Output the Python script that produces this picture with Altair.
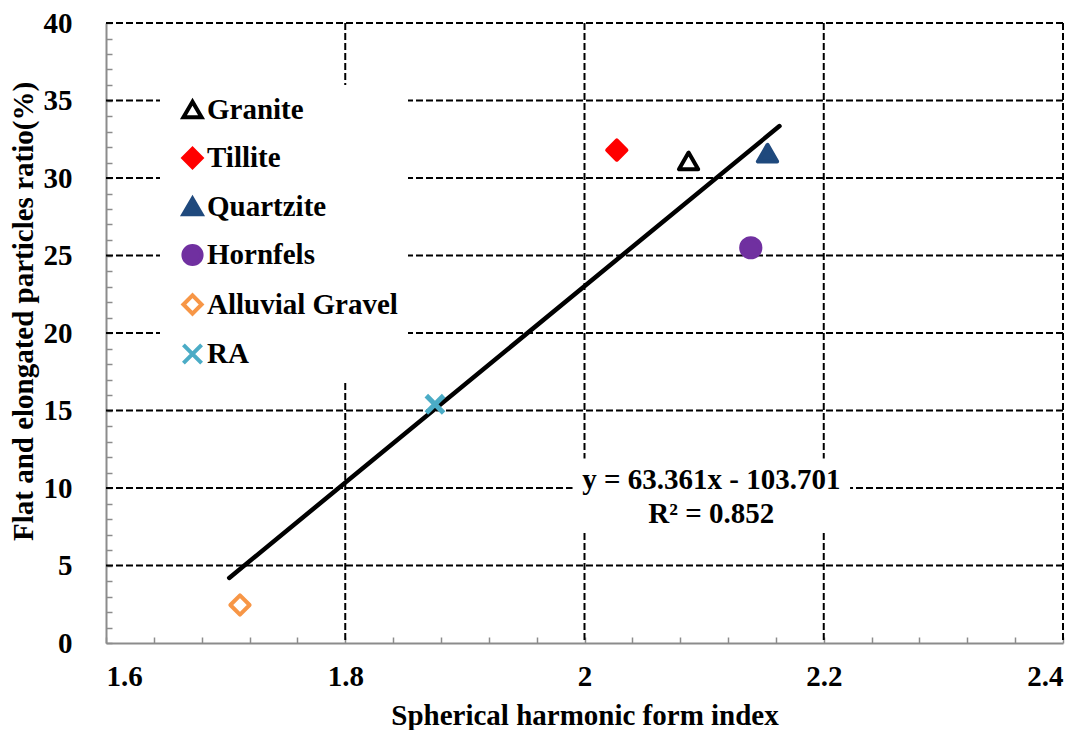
import altair as alt
import pandas as pd

# ---- data ----
rock_types = ["Granite", "Tillite", "Quartzite", "Hornfels", "Alluvial Gravel", "RA"]
sh_form_index = [2.087, 2.027, 2.153, 2.139, 1.712, 1.875]
fe_ratio = [31.1, 31.8, 31.6, 25.5, 2.45, 15.4]

trend_x = [1.703, 2.163]
trend_y = [4.2, 33.35]

x_major = [1.6, 1.8, 2.0, 2.2, 2.4]
y_major = [0, 5, 10, 15, 20, 25, 30, 35, 40]
x_grid = [1.8, 2.0, 2.2, 2.4]
y_grid = [5, 10, 15, 20, 25, 30, 35, 40]
x_minor = [round(1.6 + 0.04 * i, 2) for i in range(21)]
y_minor = list(range(0, 41))

eq_line1 = "y = 63.361x - 103.701"
eq_line2 = "R² = 0.852"

# ---- styles ----
stroke_colors = ["#000000", "#FF0000", "#1F497D", "#7030A0", "#F79646", "#4BACC6"]
fill_colors = ["#FFFFFF", "#FF0000", "#1F497D", "#7030A0", "#FFFFFF", "#4BACC6"]
shapes = ["triangle-up", "diamond", "triangle-up", "circle", "diamond",
          "M-1,-1L1,1M1,-1L-1,1"]

FONT = "Liberation Serif, Times New Roman, serif"
GREY = "#8C8C8C"
FS = 29

pts = pd.DataFrame({"type": rock_types, "x": sh_form_index, "y": fe_ratio})
trend = pd.DataFrame({"x": trend_x, "y": trend_y})
xg = pd.DataFrame({"v": x_grid})
yg = pd.DataFrame({"v": y_grid})

xscale = alt.Scale(domain=[1.6, 2.4], nice=False, zero=False)
yscale = alt.Scale(domain=[0, 40], nice=False)

x_axis = alt.Axis(values=x_major, format=".1~f", grid=False, ticks=False,
                  domain=True, domainColor=GREY, domainWidth=2,
                  labelFont=FONT, labelFontWeight="bold", labelFontSize=FS,
                  labelColor="#000", labelPadding=19,
                  title="Spherical harmonic form index", titleFont=FONT,
                  titleFontWeight="bold", titleFontSize=FS, titleColor="#000",
                  titlePadding=10, orient="bottom")
y_axis = alt.Axis(values=y_major, format="d", grid=False, ticks=False,
                  domain=True, domainColor=GREY, domainWidth=2,
                  labelFont=FONT, labelFontWeight="bold", labelFontSize=FS,
                  labelColor="#000", labelPadding=34,
                  title="Flat and elongated particles ratio(%)", titleFont=FONT,
                  titleFontWeight="bold", titleFontSize=FS, titleColor="#000",
                  titleX=-83, titleY=288, titleAlign="center", titleBaseline="middle",
                  orient="left")

x_minor_axis = alt.Axis(values=x_minor, labels=False, domain=False, grid=False,
                        ticks=True, tickSize=6, tickColor=GREY, tickWidth=1.5,
                        offset=-6, title=None, orient="bottom")
y_minor_axis = alt.Axis(values=y_minor, labels=False, domain=False, grid=False,
                        ticks=True, tickSize=6, tickColor=GREY, tickWidth=1.5,
                        offset=-6, title=None, orient="left")

dash = [7, 3]

vgrid = alt.Chart(xg).mark_rule(color="black", strokeWidth=2, strokeDash=dash).encode(
    x=alt.X("v:Q", scale=xscale, axis=x_axis),
)
hgrid = alt.Chart(yg).mark_rule(color="black", strokeWidth=2, strokeDash=dash).encode(
    y=alt.Y("v:Q", scale=yscale, axis=y_axis),
)

minor = alt.Chart(trend).mark_point(opacity=0).encode(
    x=alt.X("x:Q", scale=xscale, axis=x_minor_axis),
    y=alt.Y("y:Q", scale=yscale, axis=y_minor_axis),
)

line = alt.Chart(trend).mark_line(color="black", strokeWidth=4.5, strokeCap="round").encode(
    x=alt.X("x:Q", scale=xscale, axis=None),
    y=alt.Y("y:Q", scale=yscale, axis=None),
)

legend = alt.Legend(title=None, orient="none", legendX=54, legendY=62,
                    fillColor="white", padding=10, symbolOffset=8,
                    labelFont=FONT, labelFontWeight="bold", labelFontSize=FS,
                    labelColor="black", labelLimit=400, symbolSize=330,
                    symbolStrokeWidth=4, rowPadding=14.5, labelOffset=0,
                    symbolOpacity=1)

enc = dict(
    x=alt.X("x:Q", scale=xscale, axis=None),
    y=alt.Y("y:Q", scale=yscale, axis=None),
    stroke=alt.Stroke("type:N", scale=alt.Scale(domain=rock_types, range=stroke_colors),
                      legend=legend),
    fill=alt.Fill("type:N", scale=alt.Scale(domain=rock_types, range=fill_colors),
                  legend=legend),
    shape=alt.Shape("type:N", scale=alt.Scale(domain=rock_types, range=shapes),
                    legend=legend),
)

points = alt.Chart(pts).transform_filter(alt.datum.type != "RA").mark_point(
    opacity=1, strokeWidth=4, strokeJoin="round", size=370).encode(**enc)
cross = alt.Chart(pts).transform_filter(alt.datum.type == "RA").mark_point(
    opacity=1, strokeWidth=5, size=300).encode(**enc)

eq_box = pd.DataFrame({"x1": [1.99], "x2": [2.222], "y1": [7.1], "y2": [11.9]})
box = alt.Chart(eq_box).mark_rect(color="white").encode(
    x=alt.X("x1:Q", scale=xscale, axis=None), x2="x2:Q",
    y=alt.Y("y1:Q", scale=yscale, axis=None), y2="y2:Q",
)
eq_df = pd.DataFrame({"x": [2.106, 2.106], "y": [10.5, 8.35], "t": [eq_line1, eq_line2]})
eq_text = alt.Chart(eq_df).mark_text(font=FONT, fontWeight="bold", fontSize=FS,
                                     color="black", baseline="middle").encode(
    x=alt.X("x:Q", scale=xscale, axis=None),
    y=alt.Y("y:Q", scale=yscale, axis=None),
    text="t:N",
)

chart = alt.layer(vgrid, hgrid, minor, line, points, cross, box, eq_text).resolve_axis(
    x="independent", y="independent"
).properties(
    width=957, height=620,
    autosize=alt.AutoSizeParams(type="none"),
    padding={"left": 98, "top": 15, "right": 16, "bottom": 87},
).configure_view(stroke=None)

chart.save("out.html", embed_options={"renderer": "svg", "actions": False})
